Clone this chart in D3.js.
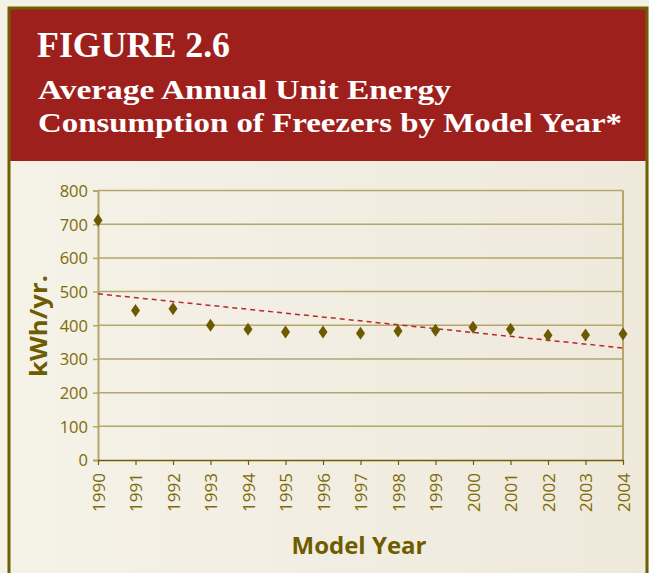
<!DOCTYPE html>
<html>
<head>
<meta charset="utf-8">
<script src="https://cdn.jsdelivr.net/npm/d3@7"></script>
<style>
  html, body { margin: 0; padding: 0; background: #f4f1e6; }
  svg { display: block; }
</style>
</head>
<body>
<svg width="649" height="573"></svg>
<script>
const years = [1990, 1991, 1992, 1993, 1994, 1995, 1996, 1997, 1998, 1999, 2000, 2001, 2002, 2003, 2004];
const kwh = [712, 444, 449, 400, 388, 380, 380, 376, 383, 385, 394, 388, 370, 371, 374];
const yTicks = [0, 100, 200, 300, 400, 500, 600, 700, 800];

const svg = d3.select("svg");
const olive = "#6f5f00";
const tan = "#b5a66c";

// gradient for the panel
const defs = svg.append("defs");
const grad = defs.append("linearGradient").attr("id", "panel");
grad.append("stop").attr("offset", "0%").attr("stop-color", "#f5f2e8");
grad.append("stop").attr("offset", "100%").attr("stop-color", "#efe9dc");

svg.append("rect").attr("x", 9).attr("y", 8).attr("width", 638).attr("height", 580)
  .attr("fill", "url(#panel)");

// header
svg.append("rect").attr("x", 10).attr("y", 9).attr("width", 636).attr("height", 152)
  .attr("fill", "#9e201d");

// frame
svg.append("path")
  .attr("d", "M9,590 V8 H647 V590")
  .attr("fill", "none").attr("stroke", olive).attr("stroke-width", 3);

const head = svg.append("g")
  .attr("fill", "#fff")
  .attr("font-family", "'Liberation Serif', serif")
  .attr("font-weight", "bold");

head.append("text").attr("x", 37).attr("y", 57)
  .attr("font-size", 35).attr("textLength", 193).attr("lengthAdjust", "spacingAndGlyphs")
  .text("FIGURE 2.6");
head.append("text").attr("x", 38).attr("y", 99)
  .attr("font-size", 27).attr("textLength", 413).attr("lengthAdjust", "spacingAndGlyphs")
  .text("Average Annual Unit Energy");
head.append("text").attr("x", 38).attr("y", 132)
  .attr("font-size", 27).attr("textLength", 584).attr("lengthAdjust", "spacingAndGlyphs")
  .text("Consumption of Freezers by Model Year*");

// scales
const x = d3.scaleLinear().domain([1990, 2004]).range([98, 623]);
const y = d3.scaleLinear().domain([0, 800]).range([460, 190.5]);

// gridlines
svg.append("g").selectAll("line")
  .data(yTicks.filter(d => d > 0))
  .join("line")
  .attr("x1", x(1990)).attr("x2", x(2004))
  .attr("y1", d => y(d)).attr("y2", d => y(d))
  .attr("stroke", tan).attr("stroke-width", 1.5);

// right edge of plot
svg.append("line")
  .attr("x1", x(2004)).attr("x2", x(2004))
  .attr("y1", y(800)).attr("y2", y(0))
  .attr("stroke", tan).attr("stroke-width", 2);

// y axis
const yAxis = svg.append("g")
  .attr("transform", `translate(${x(1990)},0)`)
  .call(d3.axisLeft(y).tickValues(yTicks).tickSize(5).tickPadding(5));
yAxis.select(".domain").attr("stroke", tan).attr("stroke-width", 2);
yAxis.selectAll(".tick line").attr("stroke", tan).attr("stroke-width", 1.5);
yAxis.selectAll("text")
  .attr("fill", "#7d6b08")
  .attr("font-family", "'Open Sans', sans-serif")
  .attr("font-size", 16.5)
  .attr("dy", "0.36em");

// x axis
const xAxis = svg.append("g")
  .attr("transform", `translate(0,${y(0)})`)
  .call(d3.axisBottom(x).tickValues(years).tickFormat(d3.format("d")).tickSize(5).tickSizeOuter(0));
xAxis.select(".domain").attr("stroke", olive).attr("stroke-width", 1.5);
xAxis.selectAll(".tick line").attr("stroke", olive).attr("stroke-width", 1.2);
xAxis.selectAll("text")
  .attr("fill", "#7d6b08")
  .attr("font-family", "'Open Sans', sans-serif")
  .attr("font-size", 17)
  .attr("transform", "rotate(-90)")
  .attr("text-anchor", "end")
  .attr("x", -13)
  .attr("y", 0)
  .attr("dy", "0.36em");

// linear trend line (least squares)
const mx = d3.mean(years), my = d3.mean(kwh);
const slope = d3.sum(years, (d, i) => (d - mx) * (kwh[i] - my)) / d3.sum(years, d => (d - mx) ** 2);
const fit = yr => my + slope * (yr - mx);
svg.append("line")
  .attr("x1", x(1990)).attr("y1", y(fit(1990)))
  .attr("x2", x(2004)).attr("y2", y(fit(2004)))
  .attr("stroke", "#b8282c").attr("stroke-width", 1.5)
  .attr("stroke-dasharray", "5,4");

// diamonds
svg.append("g").selectAll("path")
  .data(years)
  .join("path")
  .attr("d", "M0,-6.5 L4.5,0 L0,6.5 L-4.5,0 Z")
  .attr("transform", (d, i) => `translate(${x(d)},${y(kwh[i])})`)
  .attr("fill", "#6b5a00");

// axis titles
svg.append("text")
  .attr("x", 359).attr("y", 554)
  .attr("text-anchor", "middle")
  .attr("fill", "#6e5c00")
  .attr("font-family", "'Open Sans', sans-serif")
  .attr("font-weight", "bold")
  .attr("font-size", 23)
  .attr("textLength", 135).attr("lengthAdjust", "spacingAndGlyphs")
  .text("Model Year");

svg.append("text")
  .attr("transform", "translate(47,326) rotate(-90)")
  .attr("text-anchor", "middle")
  .attr("fill", "#6e5c00")
  .attr("font-family", "'Open Sans', sans-serif")
  .attr("font-weight", "bold")
  .attr("font-size", 23)
  .attr("textLength", 102).attr("lengthAdjust", "spacingAndGlyphs")
  .text("kWh/yr.");
</script>
</body>
</html>
